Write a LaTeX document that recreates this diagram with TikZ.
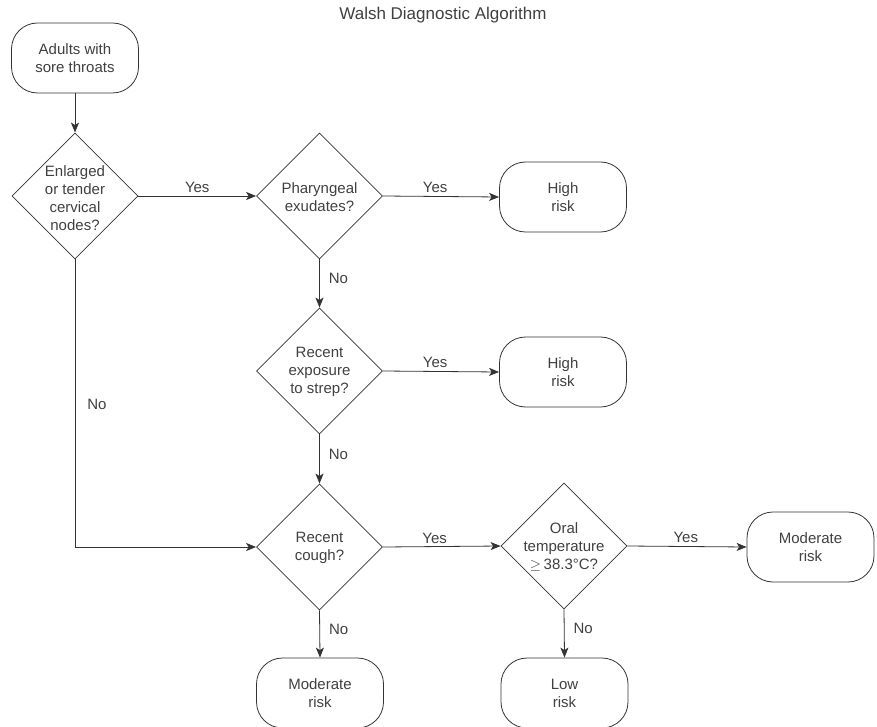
\documentclass[tikz,border=0pt]{standalone}
\usepackage{fontspec}
\setmainfont{Liberation Sans}
\usetikzlibrary{shapes.geometric,arrows.meta}
\definecolor{ink}{HTML}{333333}
\definecolor{txtc}{HTML}{404040}
\begin{document}
\begin{tikzpicture}[x=1pt,y=-1pt,
  every node/.style={font=\fontsize{15}{18}\selectfont, text=txtc},
  termbox/.style={draw=ink, line width=0.8pt, rounded corners=26pt, minimum width=127pt, minimum height=70pt, align=center, inner sep=0pt},
  dia/.style={draw=ink, line width=0.8pt, shape=diamond, aspect=1, minimum size=126pt, inner sep=0pt},
  diatxt/.style={align=center, inner sep=0pt},
  arr/.style={draw=ink, line width=0.8pt, -{Stealth[length=10pt,width=8pt,inset=2.5pt]}},
  lab/.style={inner sep=3pt}
]
\useasboundingbox (0,0) rectangle (877,727);

\node[font=\fontsize{17}{20}\selectfont] (title) at (443,15) {Walsh Diagnostic Algorithm};

\node[termbox] (start) at (75,58) {Adults with\\sore throats};

\node[dia] (d1) at (75,196) {};
\node[diatxt] (d1t) at (75,198) {Enlarged\\or tender\\cervical\\nodes?};

\node[dia] (d2) at (319.5,196) {};
\node[diatxt] (d2t) at (319.5,197) {Pharyngeal\\exudates?};

\node[termbox] (h1) at (563,197) {High\\risk};

\node[dia] (d3) at (319.5,371) {};
\node[diatxt] (d3t) at (319.5,372) {Recent\\exposure\\to strep?};

\node[termbox] (h2) at (563,372) {High\\risk};

\node[dia] (d4) at (319.5,547) {};
\node[diatxt] (d4t) at (319.5,548) {Recent\\cough?};

\node[dia] (d5) at (564,546) {};
\node[diatxt] (d5t) at (564,547) {Oral\\temperature\\$\geq$\,38.3\textdegree C?};

\node[termbox] (m1) at (810.5,547) {Moderate\\risk};
\node[termbox] (m2) at (320,693) {Moderate\\risk};
\node[termbox] (low) at (564.5,693) {Low\\risk};

\draw[arr] (start) -- (d1);
\draw[arr] (d1.east) -- node[lab, above, pos=0.5] (y1) {Yes} (d2.west);
\draw[arr] (d2.east) -- node[lab, above, pos=0.45] (y2) {Yes} (h1.west);
\draw[arr] (d2.south) -- node[lab, right, xshift=6pt, pos=0.4] (n1) {No} (d3.north);
\draw[arr] (d3.east) -- node[lab, above, pos=0.45] (y3) {Yes} (h2.west);
\draw[arr] (d3.south) -- node[lab, right, xshift=6pt, pos=0.4] (n2) {No} (d4.north);
\draw[arr] (d1.south) |- node[lab, right, xshift=9pt, pos=0.252] (n3) {No} (d4.west);
\draw[arr] (d4.east) -- node[lab, above, pos=0.44] (y4) {Yes} (d5.west);
\draw[arr] (d5.east) -- node[lab, above, pos=0.49] (y5) {Yes} (m1.west);
\draw[arr] (d4.south) -- node[lab, right, xshift=6pt, pos=0.4] (n4) {No} (m2.north);
\draw[arr] (d5.south) -- node[lab, right, xshift=6pt, pos=0.4] (n5) {No} (low.north);
\end{tikzpicture}
\end{document}
